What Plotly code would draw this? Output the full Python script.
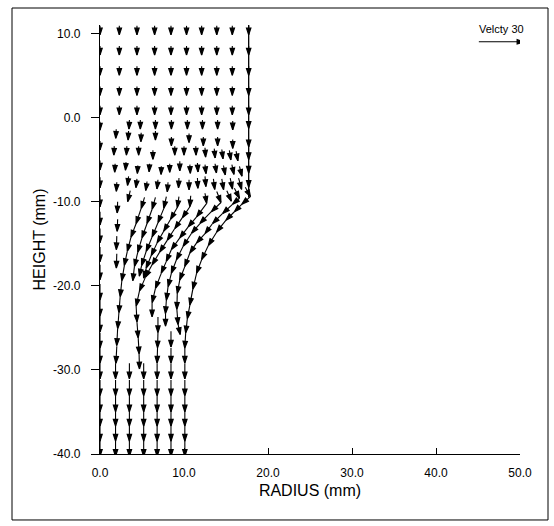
import math
import plotly.graph_objects as go

# arrow length (mm) per velocity unit: the key arrow "Velcty 30" is ~5.36 mm long
MM_PER_UNIT = 5.36 / 30.0
KEY_SPEED = 30
HEAD_LEN = 0.80    # mm
HEAD_HALF = 0.26   # mm

# ---------------------------------------------------------------- data
# upstream block inside the die: uniform downward flow
TOP_COLS_X = [0.0, 2.3, 4.4, 6.5, 8.45, 10.3, 12.1, 13.9, 15.75, 17.7]
TOP_ROWS_Y = [10.9, 8.5, 6.1, 3.7, 1.4]
TOP_V = -6.0

# nodes on the axis of symmetry (r = 0) below the upstream block
AXIS_Y = [-0.5, -2.8, -5.1, -7.1, -9.2, -11.2, -13.2, -15.4, -17.5, -19.8, -21.7, -23.6, -25.6, -27.4]
AXIS_V = [-5.6, -6.0, -6.4, -7.1, -8.0, -8.8, -9.5, -9.8, -10.0, -10.6, -10.6, -10.6, -10.1, -10.1]

# die exit region, mesh rows: (x, y, u, v)
ROW_U1 = [(3.5, -0.3, -0.3, -6), (4.8, -0.3, 0, -6), (6.6, -0.3, 0, -6), (8.5, -0.3, 0, -6),
          (10.4, -0.3, 0, -6), (12.2, -0.3, 0, -6), (14.0, -0.3, 0, -6), (15.8, -0.4, 0, -6),
          (17.7, -0.4, 0, -5)]
ROW_U2 = [(1.93, -1.4, -0.3, -6), (3.4, -1.6, -0.3, -6), (4.9, -1.8, -0.2, -6), (6.6, -1.6, 0, -6),
          (8.5, -2.3, 0, -6), (10.6, -1.9, 0, -6), (12.3, -2.3, 0, -6), (14.0, -2.3, 0, -6),
          (15.8, -2.6, 0, -6), (17.7, -2.6, 0, -5)]
ROW_U3 = [(1.7, -3.4, -0.3, -6), (3.2, -3.4, -0.3, -6), (4.6, -3.4, 0, -6), (6.3, -3.9, 0, -6),
          (8.9, -3.4, 0, -6.0), (10.0, -3.4, 0, -6.0), (11.4, -3.4, 0.2, -6.0), (12.5, -3.6, 0.4, -6.2),
          (13.6, -3.7, 0.6, -6.2), (14.5, -3.8, 0.8, -6.2), (15.4, -3.9, 1.0, -6.4), (16.2, -4.0, 1.2, -6.4),
          (17.7, -4.1, 0, -5)]
ROW_U4 = [(1.8, -5.5, -0.3, -5.6), (3.1, -5.3, -0.4, -5.4), (4.5, -5.7, -0.3, -5.3), (5.9, -5.5, -0.3, -5.3),
          (7.3, -5.8, -0.2, -5.4), (8.3, -5.5, 0, -5.6), (9.5, -5.2, 0, -6.4), (10.7, -5.6, 0.3, -5.8),
          (11.6, -5.4, 0.4, -6.0), (12.5, -5.6, 0.7, -6.0), (13.7, -5.5, 0.9, -6.1), (14.7, -5.7, 1.2, -6.3),
          (15.7, -5.6, 1.4, -6.5), (16.6, -5.8, 1.7, -6.6), (17.7, -5.7, 0, -5)]
ROW_U5 = [(2.0, -7.7, -0.3, -6.0), (3.4, -7.0, -0.7, -6.0), (4.4, -7.3, -0.7, -5.8), (5.6, -7.6, -0.9, -6.0),
          (6.9, -7.4, -0.7, -6.1), (8.1, -7.7, -0.5, -6.3), (9.4, -7.2, -0.3, -6.5), (10.6, -7.4, 0, -6.6),
          (11.6, -7.2, 0.3, -6.8), (12.5, -7.0, 0.6, -6.8), (13.5, -7.3, 0.9, -7.0), (14.5, -7.3, 1.2, -7.1),
          (15.5, -7.2, 1.5, -7.3), (16.5, -7.2, 2.0, -7.5), (17.7, -7.4, 0, -5)]
ROW_U6 = [(3.6, -8.7, -1.7, -7.3), (5.3, -9.5, -2.2, -7.3), (6.6, -9.5, -2.2, -7.8), (7.9, -9.4, -1.7, -7.8),
          (9.4, -9.4, -1.1, -7.3), (10.8, -9.3, -0.6, -7.3), (12.5, -9.0, 1.1, -6.7), (13.9, -8.8, 2.8, -7.3),
          (15.1, -8.7, 3.0, -7.0), (16.0, -8.4, 3.4, -6.7), (17.3, -8.3, 3.4, -6.2)]
COL_R2 = [(2.1, -10.0, -0.3, -7.5), (2.1, -12.1, -0.3, -8), (2.0, -14.1, -0.3, -9), (2.0, -16.2, -0.3, -9.5)]

# streaks below the die lip, following the contracting free surface
STREAK_1 = [(17.9, -9.4, -5.6, -5.0), (16.9, -10.3, -5.0, -5.0), (16.0, -11.2, -5.6, -5.6),
            (15.0, -12.2, -6.2, -7.8), (13.9, -13.6, -5.6, -9.0), (12.9, -15.2, -4.5, -9.5),
            (12.1, -16.9, -3.4, -9.0), (11.5, -18.5, -2.5, -10.6), (11.05, -20.4, -2.0, -10.6),
            (10.7, -22.3, -1.7, -9.0), (10.4, -23.9, -1.1, -9.5)]
STREAK_2 = [(16.6, -9.6, -4.5, -3.9), (15.8, -10.3, -6.7, -6.2), (14.6, -11.4, -6.7, -6.7),
            (13.4, -12.6, -5.0, -6.7), (12.5, -13.8, -5.6, -6.2), (11.5, -14.9, -4.5, -6.7),
            (10.7, -16.1, -3.4, -9.0), (10.1, -17.7, -3.4, -9.0), (9.5, -19.3, -1.7, -9.0),
            (9.2, -20.9, -0.3, -10.6), (9.15, -22.8, 0.8, -10.1), (9.3, -24.6, 1.4, -6.7)]
STREAK_3 = [(14.4, -10.1, -6.4, -6.2), (13.25, -11.2, -7.6, -7.8), (11.9, -12.6, -5.6, -6.4),
            (10.9, -13.75, -5.6, -8.7), (9.9, -15.3, -4.5, -9.0), (9.1, -16.9, -3.4, -9.0),
            (8.5, -18.5, -2.2, -9.0), (8.1, -20.1, -1.1, -9.0), (7.9, -21.7, -0.6, -9.0),
            (7.8, -23.3, 0.0, -8.4)]
STREAK_4 = [(12.7, -10.2, -6.7, -9.0), (11.5, -11.8, -5.6, -6.7), (10.5, -13.0, -5.6, -7.3),
            (9.5, -14.3, -5.6, -7.8), (8.5, -15.7, -3.4, -7.8), (7.9, -17.1, -3.4, -7.8),
            (7.3, -18.5, -3.9, -10.1), (6.6, -20.3, -2.2, -9.5), (6.2, -22.0, 0.0, -9.5)]
STREAK_5 = [(10.7, -10.6, -5.0, -7.3), (9.8, -11.9, -5.0, -7.3), (8.9, -13.2, -5.0, -7.8),
            (8.0, -14.6, -5.0, -7.8), (7.1, -16.0, -5.0, -8.4), (6.2, -17.5, -4.5, -8.4),
            (5.4, -19.0, -3.9, -9.0), (4.7, -20.6, -2.2, -10.1), (4.3, -22.4, 0.6, -10.6),
            (4.4, -24.3, 0.8, -10.6), (4.55, -26.2, 0.6, -10.6), (4.65, -28.1, 0.3, -10.0)]
STREAK_6 = [(4.9, -10.8, -3.4, -10.1), (4.3, -12.6, -3.4, -9.0), (3.7, -14.2, -2.5, -9.5),
            (3.25, -15.9, -2.0, -9.5), (2.9, -17.6, -1.7, -10.1), (2.6, -19.4, -1.1, -10.6),
            (2.4, -21.3, -0.8, -10.6), (2.25, -23.2, -0.8, -10.6), (2.1, -25.1, -0.6, -11.2),
            (2.0, -27.2, -0.6, -11.2)]
STREAK_7 = [(7.6, -10.8, -3.9, -9.5), (6.9, -12.5, -3.9, -9.5), (6.2, -14.2, -3.9, -9.5),
            (5.5, -15.9, -3.1, -9.5), (4.95, -17.6, -1.5, -7.0)]
STREAK_8 = [(6.2, -10.9, -3.4, -9.5), (5.6, -12.6, -3.4, -9.5), (5.0, -14.3, -2.8, -9.5),
            (4.5, -16.0, -2.2, -9.5), (4.1, -17.7, -1.1, -9.5)]
STREAK_9 = [(9.2, -10.7, -4.5, -7.8), (8.4, -12.1, -4.5, -7.8), (7.6, -13.5, -4.5, -7.8),
            (6.8, -14.9, -3.9, -8.4), (6.1, -16.4, -3.4, -8.4), (5.5, -17.9, -1.7, -6.7)]

# upper ends of the outlet columns
COL_OUT = [(6.9, -23.7, 0, -10.5), (6.9, -25.6, -0.3, -10.0), (6.85, -27.4, -0.3, -10.0),
           (8.45, -25.4, 0, -10.5), (8.45, -27.4, 0, -10.0),
           (10.2, -25.6, -0.6, -10.1), (10.1, -27.4, 0, -10.0)]

# fully developed outlet: straight down-flow
BOTTOM_COLS_X = [0.0, 1.85, 3.5, 5.2, 6.8, 8.45, 10.1]
BOTTOM_ROWS_Y = [-29.2, -31.2, -33.1, -34.8, -36.6, -38.4]
BOTTOM_V = -10.5

# die wall
WALL_X = [17.7, 17.7]
WALL_Y = [11.0, -9.5]

# ---------------------------------------------------------------- geometry
shaft_x, shaft_y = [], []
head_x, head_y = [], []


def add_arrow(x, y, u, v):
    dx, dy = u * MM_PER_UNIT, v * MM_PER_UNIT
    tx, ty = x + dx, y + dy
    shaft_x.extend([x, tx, None])
    shaft_y.extend([y, ty, None])
    n = math.hypot(dx, dy)
    if n == 0:
        return
    ex, ey = dx / n, dy / n
    bx, by = tx - ex * HEAD_LEN, ty - ey * HEAD_LEN
    px, py = -ey * HEAD_HALF, ex * HEAD_HALF
    head_x.extend([tx, bx + px, bx - px, tx, None])
    head_y.extend([ty, by + py, by - py, ty, None])


for y in TOP_ROWS_Y:
    for x in TOP_COLS_X:
        add_arrow(x, y, 0.0, TOP_V)

for y, v in zip(AXIS_Y, AXIS_V):
    add_arrow(0.0, y, 0.0, v)

for group in [ROW_U1, ROW_U2, ROW_U3, ROW_U4, ROW_U5, ROW_U6, COL_R2,
              STREAK_1, STREAK_2, STREAK_3, STREAK_4, STREAK_5, STREAK_6, STREAK_7,
              STREAK_8, STREAK_9, COL_OUT]:
    for x, y, u, v in group:
        add_arrow(x, y, u, v)

for y in BOTTOM_ROWS_Y:
    for x in BOTTOM_COLS_X:
        add_arrow(x, y, 0.0, BOTTOM_V)

# velocity key
add_arrow(45.1, 9.0, KEY_SPEED, 0.0)

FONT = "Liberation Sans, Arial, Helvetica, sans-serif"

fig = go.Figure()
fig.add_trace(go.Scatter(x=WALL_X, y=WALL_Y, mode="lines",
                         line=dict(color="black", width=1.3), cliponaxis=False,
                         hoverinfo="skip", showlegend=False))
fig.add_trace(go.Scatter(x=shaft_x, y=shaft_y, mode="lines",
                         line=dict(color="black", width=1.1), cliponaxis=False,
                         hoverinfo="skip", showlegend=False))
fig.add_trace(go.Scatter(x=head_x, y=head_y, mode="lines", fill="toself",
                         fillcolor="black", line=dict(color="black", width=1.2),
                         cliponaxis=False, hoverinfo="skip", showlegend=False))

fig.add_annotation(x=47.85, y=10.57, text="Velcty 30", showarrow=False,
                   font=dict(family=FONT, size=11, color="black"))

fig.update_layout(
    width=554, height=526,
    margin=dict(l=100, r=34, t=25, b=72),
    paper_bgcolor="white", plot_bgcolor="white",
    font=dict(family=FONT, color="black"),
    shapes=[dict(type="rect", xref="paper", yref="paper",
                 x0=-0.2095, x1=1.0667, y0=-0.1538, y1=1.0396,
                 line=dict(color="black", width=1))],
)
fig.update_xaxes(range=[0, 50], tickvals=[0, 10, 20, 30, 40, 50],
                 ticktext=["0.0", "10.0", "20.0", "30.0", "40.0", "50.0"],
                 ticks="inside", ticklen=6, tickwidth=1.2, tickcolor="black",
                 showline=True, linecolor="black", linewidth=1.3,
                 showgrid=False, zeroline=False, automargin=False,
                 ticklabelstandoff=7,
                 tickfont=dict(size=12, family=FONT),
                 title=dict(text="RADIUS (mm)", font=dict(size=16, family=FONT), standoff=6))
fig.update_yaxes(range=[-40, 11], tickvals=[-40, -30, -20, -10, 0, 10],
                 ticktext=["-40.0", "-30.0", "-20.0", "-10.0", "0.0", "10.0"],
                 ticks="outside", ticklen=8, tickwidth=1.2, tickcolor="black",
                 showline=True, linecolor="black", linewidth=1.3,
                 showgrid=False, zeroline=False, automargin=False,
                 ticklabelstandoff=8,
                 tickfont=dict(size=12, family=FONT),
                 title=dict(text="HEIGHT (mm)", font=dict(size=16, family=FONT), standoff=3))

fig.write_html("out.html")
